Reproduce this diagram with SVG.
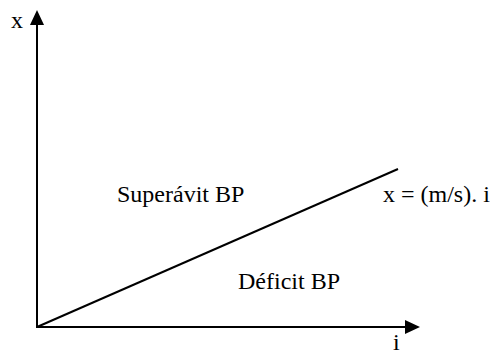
<svg xmlns="http://www.w3.org/2000/svg" width="495" height="356" viewBox="0 0 495 356">
<style>
.ax{stroke:#000;stroke-width:2;fill:none}
.t{font-family:"Liberation Serif","Times New Roman",serif;font-size:24px;fill:#000}
</style>
<rect width="495" height="356" fill="#fff"/>
<g id="connectors">
<line class="ax" x1="37" y1="328" x2="37" y2="22"/>
<polygon points="37,10 30,25 44,25" fill="#000"/>
<line class="ax" x1="36" y1="327" x2="408" y2="327"/>
<polygon points="420,327 405,320 405,334" fill="#000"/>
<line class="ax" x1="37" y1="327" x2="398" y2="169"/>
</g>
<g id="labels">
<text class="t" x="11" y="28">x</text>
<text class="t" x="393" y="350">i</text>
<text class="t" x="117" y="202">Superávit BP</text>
<text class="t" x="383" y="202">x = (m/s). i</text>
<text class="t" x="238" y="289">Déficit BP</text>
</g>
</svg>
